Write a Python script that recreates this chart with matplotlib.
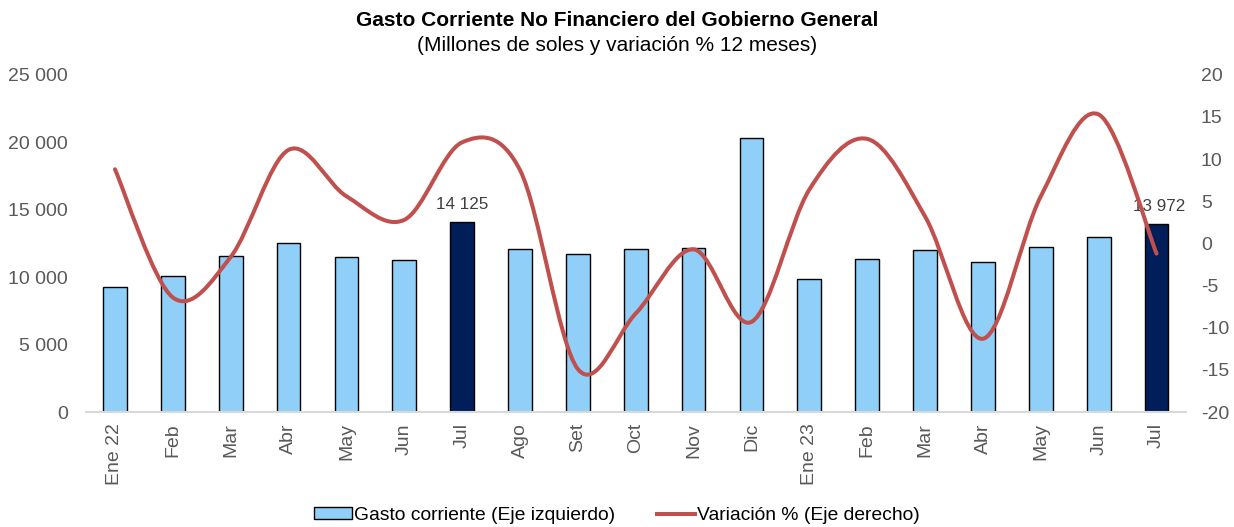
import numpy as np
import matplotlib.pyplot as plt
from matplotlib.path import Path
from matplotlib.patches import PathPatch, Patch
from matplotlib.lines import Line2D

plt.rcParams['font.family'] = ['Liberation Sans', 'DejaVu Sans']
plt.rcParams['axes.unicode_minus'] = False

# Data
meses = ["Ene 22", "Feb", "Mar", "Abr", "May", "Jun", "Jul", "Ago", "Set", "Oct",
         "Nov", "Dic", "Ene 23", "Feb", "Mar", "Abr", "May", "Jun", "Jul"]
gasto = [9250, 10090, 11600, 12560, 11520, 11280, 14125, 12070, 11750, 12090,
         12140, 20350, 9870, 11350, 12020, 11150, 12240, 13000, 13972]
variacion = [8.8, -6.4, -1.6, 11.1, 5.6, 2.8, 12.0, 8.7, -14.9, -8.3,
             -0.7, -9.3, 6.4, 12.4, 3.2, -11.3, 5.6, 15.3, -1.2]
resaltados = [6, 18]  # bars in dark blue with data label

light_blue = "#8FCFF8"
dark_blue = "#001E5A"
red = "#C0504D"
gray = "#595959"


def smooth_path(x, y):
    # Excel-like smoothed line: cubic Bezier through every point (Catmull-Rom tangents)
    n = len(x)
    verts = [(x[0], y[0])]
    codes = [Path.MOVETO]
    for i in range(n - 1):
        x0, y0 = (x[i - 1], y[i - 1]) if i > 0 else (x[i], y[i])
        x3, y3 = (x[i + 2], y[i + 2]) if i + 2 < n else (x[i + 1], y[i + 1])
        c1 = (x[i] + (x[i + 1] - x0) / 6, y[i] + (y[i + 1] - y0) / 6)
        c2 = (x[i + 1] - (x3 - x[i]) / 6, y[i + 1] - (y3 - y[i]) / 6)
        verts += [c1, c2, (x[i + 1], y[i + 1])]
        codes += [Path.CURVE4] * 3
    return Path(verts, codes)


fig = plt.figure(figsize=(12.34, 5.27), dpi=100)
ax = fig.add_axes([0.0697, 0.218, 0.891, 0.640])
ax2 = ax.twinx()

x = np.arange(len(meses))
colors = [dark_blue if i in resaltados else light_blue for i in x]
ax.bar(x, gasto, width=0.41, color=colors, edgecolor="black", linewidth=1.0, zorder=2)

for i in resaltados:
    dx = 0 if i < len(meses) - 1 else 0.05
    ax.text(x[i] + dx, gasto[i] + 700, f"{gasto[i]:,}".replace(",", " "),
            ha="center", va="bottom", fontsize=12.3, color="#404040")

ax.set_xlim(-0.5, len(meses) - 0.5)
ax.set_ylim(0, 25000)
ax.set_yticks(np.arange(0, 25001, 5000))
ax.set_yticklabels([f"{v:,}".replace(",", " ") for v in range(0, 25001, 5000)])
ax.set_xticks(x)
ax.set_xticklabels(meses, rotation=90)
ax.tick_params(axis="both", length=0, labelsize=14, labelcolor=gray)
ax.tick_params(axis="x", pad=8)
ax.tick_params(axis="y", pad=13)
for s in ["top", "left", "right"]:
    ax.spines[s].set_visible(False)
ax.spines["bottom"].set_color("#D9D9D9")
ax.spines["bottom"].set_linewidth(1.5)

ax2.add_patch(PathPatch(smooth_path(x, variacion), facecolor="none", edgecolor=red,
                        linewidth=2.9, capstyle="round", zorder=3))
ax2.set_ylim(-20, 20)
ax2.set_yticks(np.arange(-20, 21, 5))
ax2.tick_params(axis="y", length=0, labelsize=14, labelcolor=gray, pad=11)
for s in ["top", "left", "right", "bottom"]:
    ax2.spines[s].set_visible(False)

fig.text(0.5, 0.962, "Gasto Corriente No Financiero del Gobierno General",
         ha="center", va="center", fontsize=15, fontweight="bold")
fig.text(0.5, 0.913, "(Millones de soles y variación % 12 meses)",
         ha="center", va="center", fontsize=15)

handles = [Patch(facecolor=light_blue, edgecolor="black", linewidth=1.0),
           Line2D([0], [0], color=red, linewidth=2.9)]
fig.legend(handles, ["Gasto corriente (Eje izquierdo)", "Variación % (Eje derecho)"],
           loc="center", bbox_to_anchor=(0.5, 0.022), ncol=2, frameon=False,
           fontsize=13.9, handlelength=1.95, handleheight=0.55, handletextpad=0.12,
           columnspacing=2.2)

fig.savefig("out.png", dpi=100)
